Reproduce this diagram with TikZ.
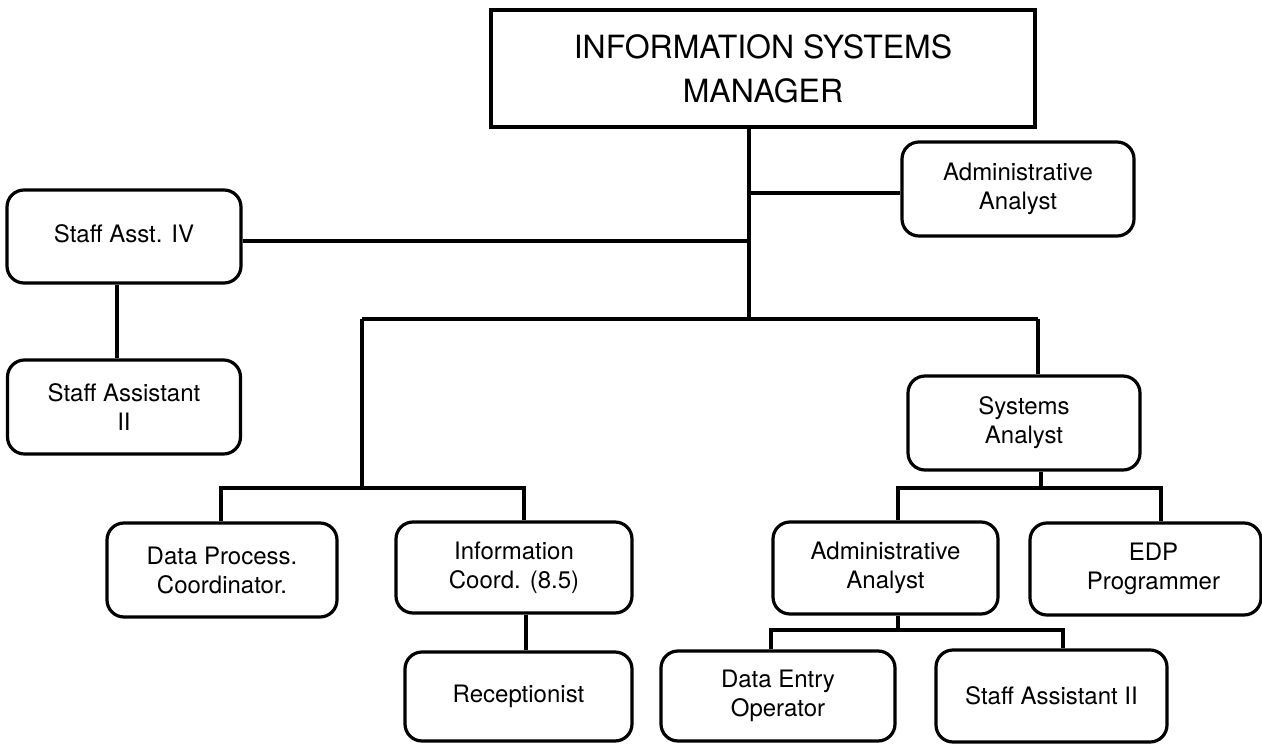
\documentclass[tikz,border=0pt]{standalone}
\usepackage{fontspec}
\setmainfont{TeX Gyre Heros}
\newcommand{\stk}[1]{\begin{tabular}{@{}c@{}}#1\end{tabular}}
\begin{document}
\begin{tikzpicture}[x=1pt,y=-1pt,
  box/.style={draw, line width=3.2pt, rounded corners=17pt, align=center, inner sep=0pt, font=\fontsize{24}{29}\selectfont},
  topbox/.style={draw, line width=3.2pt, align=center, inner sep=0pt, font=\fontsize{32}{44}\selectfont},
  conn/.style={line width=3.2pt}]
\useasboundingbox (0,0) rectangle (1262,744);
% nodes
\node[topbox, minimum width=544pt, minimum height=117pt] (ism) at (763,68.5) {INFORMATION SYSTEMS\\MANAGER};
\node[box, minimum width=232pt, minimum height=94pt] (aa1) at (1018,189) {Administrative\\Analyst};
\node[box, minimum width=234pt, minimum height=93pt] (sa4) at (124,236.5) {\raisebox{6pt}{Staff Asst. IV}};
\node[box, minimum width=233pt, minimum height=94pt] (sa2) at (124,407) {Staff Assistant\\II};
\node[box, minimum width=230pt, minimum height=94pt] (dp) at (222,570) {Data Process.\\Coordinator.};
\node[box, minimum width=236pt, minimum height=91pt] (ic) at (514,567.5) {Information\\Coord. (8.5)};
\node[box, minimum width=227pt, minimum height=89pt] (rec) at (518.5,696.5) {Receptionist};
\node[box, minimum width=232pt, minimum height=94pt] (sys) at (1024,423) {Systems\\Analyst};
\node[box, minimum width=225pt, minimum height=92pt] (aa2) at (885.5,568) {Administrative\\Analyst};
\node[box, minimum width=231pt, minimum height=92pt] (edp) at (1145.5,569) {\hspace*{16pt}EDP\\\hspace*{16pt}Programmer};
\node[box, minimum width=234pt, minimum height=90pt] (deo) at (778,696) {\raisebox{6pt}{\stk{Data Entry\\Operator}}};
\node[box, minimum width=231pt, minimum height=92pt] (sa2b) at (1051.5,696) {Staff Assistant II};
% junctions
\coordinate (jm) at (749,319);
\coordinate (jl) at (362,319);
\coordinate (jr) at (1038,319);
\coordinate (jlb) at (362,488);
\coordinate (dpj) at (221,488);
\coordinate (icj) at (524,488);
\coordinate (sysj) at (1041,488);
\coordinate (aaj) at (898,488);
\coordinate (edpj) at (1161,488);
\coordinate (aa2j) at (898,630);
\coordinate (deoj) at (771,630);
\coordinate (sabj) at (1063,630);
% connectors
\draw[conn] (ism.south -| jm) -- (jm);
\draw[conn] (aa1.west |- 0,193) -- (jm |- 0,193);
\draw[conn] (sa4.east |- 0,241) -- (jm |- 0,241);
\draw[conn] ([xshift=-7pt]sa4.south) -- ([xshift=-7pt]sa2.north);
\draw[conn] (jl) -- (jr);
\draw[conn] (jr) -- (sys.north -| jr);
\draw[conn] (jl) -- (jlb);
\draw[conn] (dp.north -| dpj) -- (dpj) -- (icj) -- (ic.north -| icj);
\draw[conn] (ic.south -| 526,0) -- (rec.north -| 526,0);
\draw[conn] (sys.south -| sysj) -- (sysj);
\draw[conn] (aa2.north -| aaj) -- (aaj) -- (edpj) -- (edp.north -| edpj);
\draw[conn] (aa2.south -| aa2j) -- (aa2j);
\draw[conn] (deo.north -| deoj) -- (deoj) -- (sabj) -- (sa2b.north -| sabj);
\end{tikzpicture}
\end{document}
